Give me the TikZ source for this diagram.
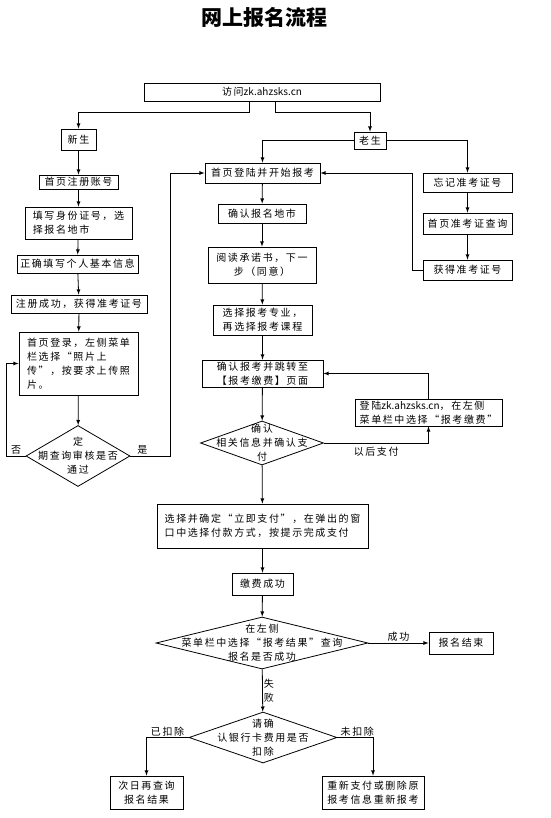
\documentclass[tikz,border=0pt]{standalone}
\usepackage{fontspec}
\usepackage{amsmath}
\setmainfont{Noto Sans CJK SC}[LetterSpace=16]
\newfontfamily\titlefont{Noto Sans CJK SC}
\newcommand{\siteurl}{{\addfontfeature{LetterSpace=0}zk.ahzsks.cn}}
\usetikzlibrary{shapes.geometric}

\tikzset{
  box/.style={draw, line width=0.8pt, inner sep=1pt, font=\fontsize{10}{14}\selectfont},
  dia/.style={draw, diamond, line width=0.8pt, inner sep=0pt},
  txt/.style={align=center, inner sep=1pt, font=\fontsize{10}{14}\selectfont},
  flow/.style={-latex, line width=0.8pt},
}

\begin{document}
\begin{tikzpicture}[x=1pt, y=-1pt]
        \useasboundingbox (0,0) rectangle (550,818);
        \node[font=\titlefont\fontsize{21}{24}\selectfont\bfseries] (title) at (264,17.5) {网上报名流程};
        \node[box, minimum width=236, minimum height=18] (visit) at (262,92) {访问\siteurl};
        \node[box, minimum width=35, minimum height=21] (new) at (78.5,139.5) {新生};
        \node[box, minimum width=32, minimum height=17] (old) at (370,140.5) {老生};
        % left column: new students
        \node[box, minimum width=79, minimum height=14] (reg) at (78.5,182) {首页注册账号};
        \node[box, minimum width=107, minimum height=32, align=left] (idcard) at (78.5,223) {填写身份证号，选\\择报名地市};
        \node[box, minimum width=121, minimum height=18] (info) at (77.5,264) {正确填写个人基本信息};
        \node[box, minimum width=136, minimum height=18] (regok) at (79,304) {注册成功，获得准考证号};
        \node[box, minimum width=119, minimum height=63, align=left] (photo) at (78.5,363.5) {首页登录，左侧菜单\\栏选择“照片上\\传”，按要求上传照\\片。};
        \node[dia, minimum width=104, minimum height=61] (check) at (78,456) {};
        \node[txt] (checkt) at (check) {定\\期查询审核是否\\通过};
        % middle column
        \node[box, minimum width=115, minimum height=20] (login) at (262.5,173) {首页登陆并开始报考};
        \node[box, minimum width=88, minimum height=19] (city) at (262,213.5) {确认报名地市};
        \node[box, minimum width=108, minimum height=36, align=center] (promise) at (262,265) {阅读承诺书，下一\\步（同意）};
        \node[box, minimum width=99, minimum height=30, align=left] (major) at (262.5,320) {选择报考专业，\\再选择报考课程};
        \node[box, minimum width=121, minimum height=27, align=left] (confirm) at (262.5,373.5) {确认报考并跳转至\\【报考缴费】页面};
        \node[dia, minimum width=123, minimum height=44] (payq) at (262,443) {};
        \node[txt] (payqt) at (payq) {确认\\相关信息并确认支\\付};
        \node[box, minimum width=147, minimum height=27, align=left] (later) at (428.5,412.5) {登陆\siteurl，在左侧\\菜单栏中选择“报考缴费”};
        \node[box, minimum width=211, minimum height=44, align=left] (paynow) at (262.5,526) {选择并确定“立即支付”，在弹出的窗\\口中选择付款方式，按提示完成支付};
        \node[box, minimum width=61, minimum height=22] (paid) at (262.5,584) {缴费成功};
        \node[dia, minimum width=212, minimum height=52] (result) at (262,643) {};
        \node[txt] (resultt) at (result) {在左侧\\菜单栏中选择“报考结果”查询\\报名是否成功};
        \node[box, minimum width=64, minimum height=22] (done) at (461,643) {报名结束};
        \node[dia, minimum width=148, minimum height=51] (bank) at (263,737.5) {};
        \node[txt] (bankt) at (bank) {请确\\认银行卡费用是否\\扣除};
        \node[box, minimum width=73, minimum height=33, align=center] (nextday) at (146.5,792.5) {次日再查询\\报名结果};
        \node[box, minimum width=102, minimum height=33, align=center] (redo) at (373,792.5) {重新支付或删除原\\报考信息重新报考};
        % right column: old students
        \node[box, minimum width=89, minimum height=19] (forget) at (467.5,182.5) {忘记准考证号};
        \node[box, minimum width=89, minimum height=21] (query) at (467.5,223.5) {首页准考证查询};
        \node[box, minimum width=89, minimum height=20] (getno) at (467.5,270) {获得准考证号};

        \draw[flow] ([xshift=-13pt]visit.south) -- ++(0,11) -| (new.north);
        \draw[flow] ([xshift=13pt]visit.south) -- ++(0,11) -| (old.north);
        \draw[flow] (old.west) -| (login.north);
        \draw[flow] (old.east) -| (forget.north);
        \draw[flow] (new) -- (reg);
        \draw[flow] (reg) -- (idcard);
        \draw[flow] (idcard) -- (info);
        \draw[flow] (info) -- (regok);
        \draw[flow] (regok) -- (photo);
        \draw[flow] (photo) -- (check);
        \draw[flow] (check.west) -- ++(-19,0) node[txt, midway, above] (no) {否} |- (photo.west);
        \draw[flow] (check.east) -- ++(40,0) node[txt, pos=0.3, above] (yes) {是} |- (login.west);
        \draw[flow] (login) -- (city);
        \draw[flow] (city) -- (promise);
        \draw[flow] (promise) -- (major);
        \draw[flow] (major) -- (confirm);
        \draw[flow] (confirm) -- (payq);
        \draw[flow] (payq) -- (paynow);
        \draw[flow] (payq.east) -| node[txt, pos=0.25, below=3pt] (paylater) {以后支付} (later.south);
        \draw[flow] (later.north) |- (confirm.east);
        \draw[flow] (paynow) -- (paid);
        \draw[flow] (paid) -- (result);
        \draw[flow] (result.east) -- node[txt, above] (ok) {成功} (done.west);
        \draw[flow] (result) -- node[txt, right] (fail) {失\\败} (bank);
        \draw[flow] (bank.west) -| node[txt, pos=0.25, above] (cut) {已扣除} (nextday.north);
        \draw[flow] (bank.east) -| node[txt, pos=0.28, above] (uncut) {未扣除} (redo.north);
        \draw[flow] (forget) -- (query);
        \draw[flow] (query) -- (getno);
        \draw[flow] (getno.west) -- ++(-10,0) |- (login.east);
    \end{tikzpicture}
\end{document}
